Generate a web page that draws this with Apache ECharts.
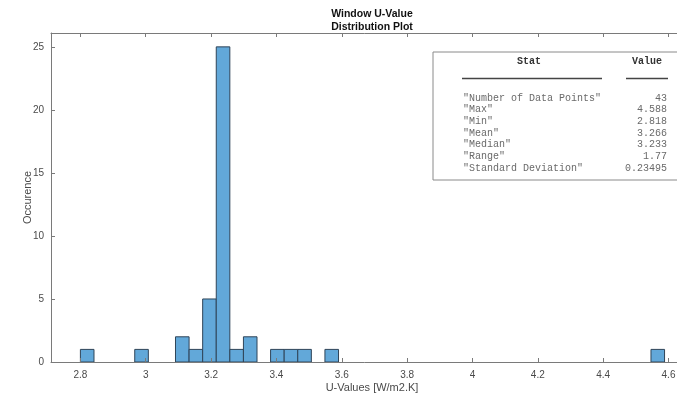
<!DOCTYPE html>
<html>
<head>
<meta charset="utf-8">
<script src="https://cdn.jsdelivr.net/npm/echarts@6/dist/echarts.min.js"></script>
<style>
html,body{margin:0;padding:0;background:#fff;}
#chart{width:677px;height:398px;}
</style>
</head>
<body>
<div id="chart"></div>
<script>
// ---- Data ----
var binStart = 2.80;
var binWidth = 0.04158;
var counts = [1,0,0,0,1,0,0,2,1,5,25,1,2,0,1,1,1,0,1,0,0,0,0,0,0,0,0,0,0,0,0,0,0,0,0,0,0,0,0,0,0,0,1];
var xTickValues = [2.8, 3.0, 3.2, 3.4, 3.6, 3.8, 4.0, 4.2, 4.4, 4.6];
var xTickLabels = ['2.8', '3', '3.2', '3.4', '3.6', '3.8', '4', '4.2', '4.4', '4.6'];
var yTickValues = [0, 5, 10, 15, 20, 25];
var statHeader = ['Stat', 'Value'];
var statNames = ['"Number of Data Points"', '"Max"', '"Min"', '"Mean"', '"Median"', '"Range"', '"Standard Deviation"'];
var statValues = ['43', '4.588', '2.818', '3.266', '3.233', '1.77', '0.23495'];
var titleText = 'Window U-Value\nDistribution Plot';
var xName = 'U-Values [W/m2.K]';
var yName = 'Occurence';

// ---- Build ----
var histData = [];
counts.forEach(function (c, i) {
  if (c > 0) histData.push([binStart + i * binWidth, binStart + (i + 1) * binWidth, c]);
});

var SANS = "'Liberation Sans',Arial,sans-serif";
var MONO = "'Liberation Mono','Courier New',monospace";
var axisCol = '#7a7a7a';
var labelCol = '#4a4a4a';

var labelMap = {};
xTickValues.forEach(function (v, i) { labelMap[v.toFixed(1)] = xTickLabels[i]; });

var graphics = [];
var tx = 433, ty = 52, tw = 250, th = 128;
graphics.push({type:'rect', shape:{x:tx, y:ty, width:tw, height:th}, style:{fill:'#fff', stroke:'#8a8a8a', lineWidth:1}, z:100});
graphics.push({type:'text', x:529, y:61, style:{text:statHeader[0], font:'bold 10px ' + MONO, fill:'#333', align:'center', verticalAlign:'middle'}, z:101});
graphics.push({type:'text', x:647, y:61, style:{text:statHeader[1], font:'bold 10px ' + MONO, fill:'#333', align:'center', verticalAlign:'middle'}, z:101});
graphics.push({type:'line', shape:{x1:462, y1:78.5, x2:602, y2:78.5}, style:{stroke:'#444', lineWidth:1.5}, z:101});
graphics.push({type:'line', shape:{x1:626, y1:78.5, x2:668, y2:78.5}, style:{stroke:'#444', lineWidth:1.5}, z:101});
statNames.forEach(function (n, i) {
  var y = 98 + i * 11.7;
  graphics.push({type:'text', x:463, y:y, style:{text:n, font:'10px ' + MONO, fill:'#6a6a6a', align:'left', verticalAlign:'middle'}, z:101});
  graphics.push({type:'text', x:667, y:y, style:{text:statValues[i], font:'10px ' + MONO, fill:'#6a6a6a', align:'right', verticalAlign:'middle'}, z:101});
});

var chart = echarts.init(document.getElementById('chart'), null, {renderer:'canvas'});
var option = {
  animation: false,
  backgroundColor: '#fff',
  title: {
    text: titleText,
    left: 367,
    top: 3,
    textAlign: 'center',
    textStyle: {fontFamily: SANS, fontSize: 10.5, fontWeight: 'bold', color: '#111', lineHeight: 13}
  },
  grid: {left: 51, top: 33, right: -16, bottom: 36, containLabel: false, outerBoundsMode: 'none'},
  xAxis: [{
    type: 'value', min: 2.71, max: 4.675, position: 'bottom', z: 5,
    name: xName, nameLocation: 'middle', nameGap: 20, nameMoveOverlap: false,
    nameTextStyle: {fontFamily: SANS, fontSize: 11, color: labelCol},
    axisLine: {show: true, onZero: false, lineStyle: {color: axisCol, width: 1}},
    axisTick: {show: true, inside: true, length: 4, customValues: xTickValues, lineStyle: {color: axisCol}},
    axisLabel: {customValues: xTickValues, fontFamily: SANS, fontSize: 10, color: labelCol, margin: 8,
      formatter: function (v) { return labelMap[Number(v).toFixed(1)] || String(v); }},
    splitLine: {show: false}
  }, {
    type: 'value', min: 2.71, max: 4.675, position: 'top', z: 5,
    axisLine: {show: true, onZero: false, lineStyle: {color: axisCol, width: 1}},
    axisTick: {show: true, inside: true, length: 4, customValues: xTickValues, lineStyle: {color: axisCol}},
    axisLabel: {show: false},
    splitLine: {show: false}
  }],
  yAxis: [{
    type: 'value', min: 0, max: 26.1, position: 'left', z: 5,
    name: yName, nameLocation: 'middle', nameGap: 18, nameMoveOverlap: false,
    nameTextStyle: {fontFamily: SANS, fontSize: 11, color: labelCol},
    axisLine: {show: true, onZero: false, lineStyle: {color: axisCol, width: 1}},
    axisTick: {show: true, inside: true, length: 4, customValues: yTickValues, lineStyle: {color: axisCol}},
    axisLabel: {customValues: yTickValues, fontFamily: SANS, fontSize: 10, color: labelCol, margin: 7},
    splitLine: {show: false}
  }],
  series: [{
    type: 'custom',
    xAxisIndex: 0, yAxisIndex: 0,
    data: histData,
    encode: {x: [0, 1], y: 2},
    renderItem: function (params, api) {
      var p0 = api.coord([api.value(0), 0]);
      var p1 = api.coord([api.value(1), api.value(2)]);
      return {
        type: 'rect',
        shape: {x: p0[0], y: p1[1], width: p1[0] - p0[0], height: p0[1] - p1[1]},
        style: {fill: '#62a8d9', stroke: '#2f4458', lineWidth: 1}
      };
    }
  }],
  graphic: graphics
};
chart.setOption(option);
</script>
</body>
</html>
